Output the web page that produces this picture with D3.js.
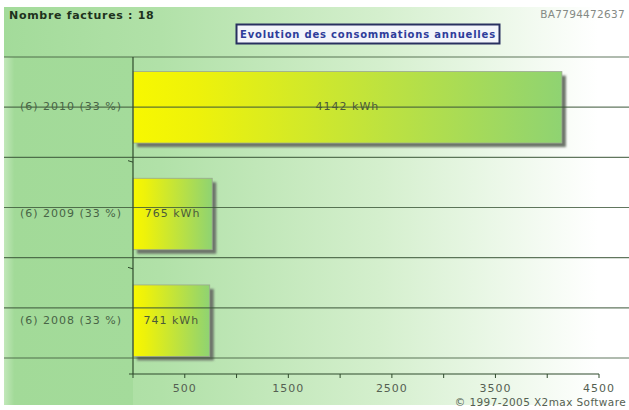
<!DOCTYPE html>
<html><head><meta charset="utf-8">
<script src="https://cdn.jsdelivr.net/npm/d3@7"></script>
<style>body{margin:0;background:#fff}svg{display:block;font-family:"DejaVu Sans",sans-serif}</style>
</head><body>
<script>
const categories = ["(6) 2010 (33 %)", "(6) 2009 (33 %)", "(6) 2008 (33 %)"];
const values = [4142, 765, 741];
const valueLabels = ["4142 kWh", "765 kWh", "741 kWh"];
const tickValues = [0, 500, 1000, 1500, 2000, 2500, 3000, 3500, 4000, 4500];
const tickLabels = ["500", "1500", "2500", "3500", "4500"];
const headerLeft = "Nombre factures : 18";
const headerRight = "BA7794472637";
const title = "Evolution des consommations annuelles";
const footer = "© 1997-2005 X2max Software";

const W = 629, H = 410;
const svg = d3.select("body").append("svg").attr("width", W).attr("height", H);
const defs = svg.append("defs");

const bg = defs.append("linearGradient").attr("id", "bg").attr("x1", 0).attr("x2", 1).attr("y1", 0).attr("y2", 0);
bg.append("stop").attr("offset", 0).attr("stop-color", "#a3db9a");
bg.append("stop").attr("offset", 0.25).attr("stop-color", "#b1e1a8");
bg.append("stop").attr("offset", 0.6).attr("stop-color", "#d4efcd");
bg.append("stop").attr("offset", 0.95).attr("stop-color", "#ffffff");

const left = defs.append("linearGradient").attr("id", "leftg").attr("x1", 0).attr("x2", 1);
left.append("stop").attr("offset", 0).attr("stop-color", "#c2e8ba");
left.append("stop").attr("offset", 0.08).attr("stop-color", "#a2da98");
left.append("stop").attr("offset", 1).attr("stop-color", "#a4db9b");

const barG = defs.append("linearGradient").attr("id", "barg").attr("x1", 0).attr("x2", 1);
barG.append("stop").attr("offset", 0).attr("stop-color", "#f8f800");
barG.append("stop").attr("offset", 0.15).attr("stop-color", "#eef20a");
barG.append("stop").attr("offset", 1).attr("stop-color", "#8fd372");

const blur = defs.append("filter").attr("id", "blur").attr("x", "-10%").attr("y", "-10%").attr("width", "130%").attr("height", "130%");
blur.append("feGaussianBlur").attr("stdDeviation", 1.2);

// backgrounds
svg.append("rect").attr("x", 4).attr("y", 7).attr("width", W - 4).attr("height", 398).attr("fill", "url(#bg)");

const x = d3.scaleLinear().domain([0, 4500]).range([133, 599]);
const y = d3.scaleBand().domain(categories).range([54, 374]).paddingInner(0.33).paddingOuter(0.165);

svg.append("rect").attr("x", 4).attr("y", 57).attr("width", x(0) - 4).attr("height", 348).attr("fill", "url(#leftg)");

// bars with shadow
const bars = svg.append("g");
categories.forEach((c, i) => {
  bars.append("rect").attr("x", x(0) + 4).attr("y", y(c) + 4)
    .attr("width", x(values[i]) - x(0)).attr("height", y.bandwidth())
    .attr("fill", "#6d746a").attr("filter", "url(#blur)");
  bars.append("rect").attr("x", x(0)).attr("y", y(c))
    .attr("width", x(values[i]) - x(0)).attr("height", y.bandwidth())
    .attr("fill", "url(#barg)").attr("stroke", "#9aa88f").attr("stroke-width", 0.8);
});

// decorative horizontal grid lines (drawn on top)
const gridY = d3.scaleLinear().domain([0, 6]).range([57, 358]);
svg.append("g").selectAll("line").data(d3.range(7)).join("line")
  .attr("x1", 4).attr("x2", W).attr("y1", d => gridY(d)).attr("y2", d => gridY(d))
  .attr("stroke", "#3a5537").attr("stroke-width", 1.1).attr("opacity", 0.8);

// y axis
svg.append("line").attr("x1", x(0)).attr("x2", x(0)).attr("y1", 57).attr("y2", 374).attr("stroke", "#2f4a2c").attr("stroke-width", 1.2);
const bounds = [y(categories[1]) - y.step() * y.paddingInner() / 2, y(categories[2]) - y.step() * y.paddingInner() / 2];
svg.append("g").selectAll("line").data(bounds).join("line")
  .attr("x1", x(0) - 5).attr("x2", x(0)).attr("y1", d => d).attr("y2", d => d + 1.5)
  .attr("stroke", "#2f4a2c").attr("stroke-width", 1);

// x axis
svg.append("line").attr("x1", x(0) - 4).attr("x2", x(4500)).attr("y1", 374).attr("y2", 374).attr("stroke", "#2f4a2c").attr("stroke-width", 1.2);
svg.append("g").selectAll("line").data(tickValues).join("line")
  .attr("x1", d => x(d)).attr("x2", d => x(d)).attr("y1", 374).attr("y2", 378)
  .attr("stroke", "#2f4a2c").attr("stroke-width", 1);
svg.append("g").selectAll("text").data(tickLabels).join("text")
  .attr("x", d => x(+d)).attr("y", 392).attr("text-anchor", "middle")
  .attr("font-size", 11).attr("letter-spacing", 1).attr("fill", "#555f52").text(d => d);

// category labels
svg.append("g").selectAll("text").data(categories).join("text")
  .attr("x", 122).attr("y", d => y(d) + y.bandwidth() / 2 + 3)
  .attr("text-anchor", "end").attr("font-size", 11).attr("letter-spacing", 1).attr("fill", "#486446").text(d => d);

// value labels
svg.append("g").selectAll("text").data(categories).join("text")
  .attr("x", (d, i) => (x(0) + x(values[i])) / 2).attr("y", d => y(d) + y.bandwidth() / 2 + 3)
  .attr("text-anchor", "middle").attr("font-size", 11).attr("letter-spacing", 1).attr("fill", "#4a5a3a").text((d, i) => valueLabels[i]);

// header
svg.append("text").attr("x", 9).attr("y", 19).attr("font-size", 11).attr("letter-spacing", 0.7).attr("font-weight", "bold").attr("fill", "#1e321c").text(headerLeft);
svg.append("text").attr("x", 625).attr("y", 18).attr("text-anchor", "end").attr("font-size", 10.5).attr("letter-spacing", 0.3).attr("fill", "#858a85").text(headerRight);

const tb = svg.append("g");
tb.append("rect").attr("x", 236.5).attr("y", 24.5).attr("width", 263).attr("height", 19).attr("fill", "#f3f5fb").attr("stroke", "#283060").attr("stroke-width", 2);
tb.append("text").attr("x", 368).attr("y", 38).attr("text-anchor", "middle").attr("font-size", 10).attr("letter-spacing", 0.8).attr("font-weight", "bold").attr("fill", "#2e3d9a").text(title);

svg.append("text").attr("x", 626).attr("y", 406).attr("text-anchor", "end").attr("font-size", 10.5).attr("letter-spacing", 0.4).attr("fill", "#555f52").text(footer);
</script>
</body></html>
